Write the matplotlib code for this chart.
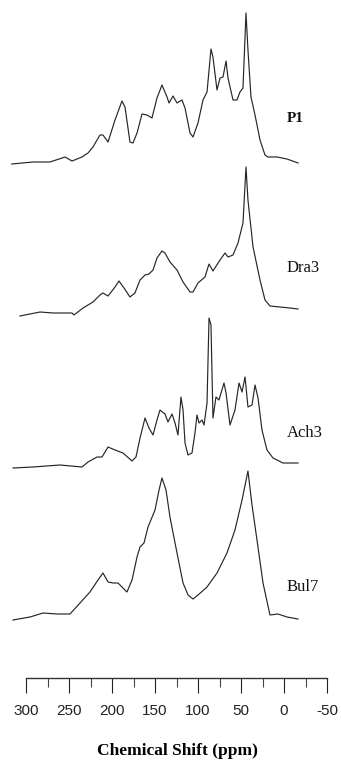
import matplotlib
matplotlib.use("Agg")
import matplotlib.pyplot as plt
from matplotlib.ticker import MultipleLocator

# spectres RMN 13C : déplacement chimique (ppm) et intensité relative
p1_ppm = [316.6, 291.9, 272.1, 254.6, 246.5, 234.9, 227.9, 222.1, 214.0, 210.5,
          204.6, 196.5, 188.4, 184.9, 179.1, 175.6, 170.9, 165.1, 159.3, 153.5,
          147.7, 141.9, 136.0, 133.7, 129.1, 124.4, 118.6, 115.1, 109.3, 105.8,
          100.0, 94.2, 89.5, 84.9, 82.6, 77.9, 74.4, 70.9, 67.4, 65.1,
          59.3, 54.7, 51.2, 47.7, 44.2, 41.9, 38.4, 33.7, 27.9, 22.1,
          18.6, 8.1, -3.5, -16.3]
p1_int = [1, 3, 3, 8, 4, 8, 12, 18, 30, 30,
          23, 45, 64, 58, 23, 22, 32, 51, 50, 47,
          67, 80, 68, 62, 69, 62, 65, 57, 32, 28,
          42, 65, 73, 116, 108, 75, 87, 88, 104, 87,
          65, 65, 73, 77, 152, 115, 68, 50, 25, 10,
          8, 8, 6, 2]

dra3_ppm = [307.0, 283.7, 268.6, 246.5, 244.2, 233.7, 222.1, 214.0, 210.5, 204.6,
            196.5, 191.9, 186.0, 179.1, 173.3, 167.4, 161.6, 157.0, 152.3, 147.7,
            141.9, 138.4, 132.6, 124.4, 117.4, 109.3, 105.8, 100.0, 91.9, 87.2,
            82.6, 74.4, 68.6, 65.1, 59.3, 53.5, 47.7, 44.2, 41.9, 36.0,
            27.9, 22.1, 16.3, 4.7, -7.0, -16.3]
dra3_int = [0, 4, 3, 3, 1, 8, 14, 21, 23, 20,
            29, 35, 28, 19, 23, 36, 41, 42, 46, 58,
            65, 63, 54, 46, 34, 24, 24, 33, 39, 52,
            45, 56, 63, 59, 61, 73, 93, 149, 116, 69,
            36, 16, 10, 9, 8, 7]

ach3_ppm = [315.1, 291.9, 260.5, 234.9, 227.9, 217.4, 211.6, 204.6, 196.5, 187.2,
            176.7, 172.1, 167.4, 161.6, 157.0, 152.3, 147.7, 144.2, 138.4, 134.9,
            130.2, 126.7, 123.3, 119.8, 117.4, 115.1, 111.6, 107.0, 103.5, 101.2,
            98.8, 95.3, 93.0, 89.5, 87.2, 84.9, 82.6, 79.1, 75.6, 69.8,
            67.4, 62.8, 57.0, 52.3, 48.8, 45.3, 41.9, 37.2, 33.7, 30.2,
            25.6, 19.8, 12.8, 1.2, -16.3]
ach3_int = [0, 1, 3, 1, 6, 11, 11, 21, 18, 15,
            7, 11, 30, 50, 40, 33, 48, 58, 54, 46,
            54, 45, 33, 71, 58, 25, 13, 15, 35, 53,
            45, 48, 43, 65, 150, 143, 50, 71, 68, 85,
            75, 43, 58, 85, 76, 91, 61, 63, 83, 70,
            38, 18, 10, 5, 5]

bul7_ppm = [315.1, 295.3, 280.2, 264.0, 248.8, 237.2, 225.6, 216.3, 210.5, 204.6,
            198.8, 193.0, 182.6, 176.7, 170.9, 167.4, 162.8, 158.1, 150.0, 145.3,
            141.9, 137.2, 132.6, 124.4, 117.4, 111.6, 105.8, 100.0, 89.5, 77.9,
            66.3, 57.0, 48.8, 41.9, 37.2, 31.4, 24.4, 16.3, 7.0, -3.5,
            -16.3]
bul7_int = [0, 3, 7, 6, 6, 17, 28, 40, 47, 38,
            37, 37, 28, 40, 63, 73, 77, 93, 110, 130,
            142, 130, 103, 67, 37, 25, 21, 25, 33, 47,
            67, 90, 120, 149, 115, 80, 37, 5, 6, 3,
            1]

names = ["P1", "Dra3", "Ach3", "Bul7"]
tick_labels = ["300", "250", "200", "150", "100", "50", "0", "-50"]

spectres = [(p1_ppm, p1_int), (dra3_ppm, dra3_int),
            (ach3_ppm, ach3_int), (bul7_ppm, bul7_int)]
decalages = [595, 444, 292, 140]
label_y = [642, 492, 327, 173]

fig = plt.figure(figsize=(3.41, 7.6), dpi=100)

ax = fig.add_axes([0, 0, 1, 1])
ax.set_xlim(330.23, -66.28)
ax.set_ylim(0, 760)
ax.axis("off")

for k in range(len(spectres)):
    ppm, inten = spectres[k]
    y = [v + decalages[k] for v in inten]
    ax.plot(ppm, y, color="#262626", lw=0.85)
    if names[k] == "P1":
        ax.text(-3.5, label_y[k], names[k], fontsize=11, fontweight="bold",
                family="Liberation Serif", ha="left", va="center", color="#111111")
    else:
        ax.text(-3.5, label_y[k], names[k], fontsize=12,
                family="Liberation Serif", ha="left", va="center", color="#111111")

# axe des déplacements chimiques
ax2 = fig.add_axes([26/341, 82/760, 301/341, 0.02])
ax2.set_xlim(300, -50)
ax2.set_facecolor("none")
for s in ["top", "left", "right"]:
    ax2.spines[s].set_visible(False)
ax2.spines["bottom"].set_linewidth(1.0)
ax2.spines["bottom"].set_color("#333333")
ax2.set_yticks([])
ax2.xaxis.set_minor_locator(MultipleLocator(25))
ax2.set_xticks([300, 250, 200, 150, 100, 50, 0, -50])
ax2.set_xticklabels(tick_labels, family="Liberation Sans", fontsize=11)
ax2.tick_params(axis="x", which="major", length=11, width=0.8, pad=8, colors="#222222")
ax2.tick_params(axis="x", which="minor", length=6.5, width=0.8, colors="#444444")

fig.text(177/341, 1 - 751/760, "Chemical Shift (ppm)", family="Liberation Serif",
         fontweight="bold", fontsize=12.5, ha="center", va="center")

fig.savefig("out.png", dpi=100)
